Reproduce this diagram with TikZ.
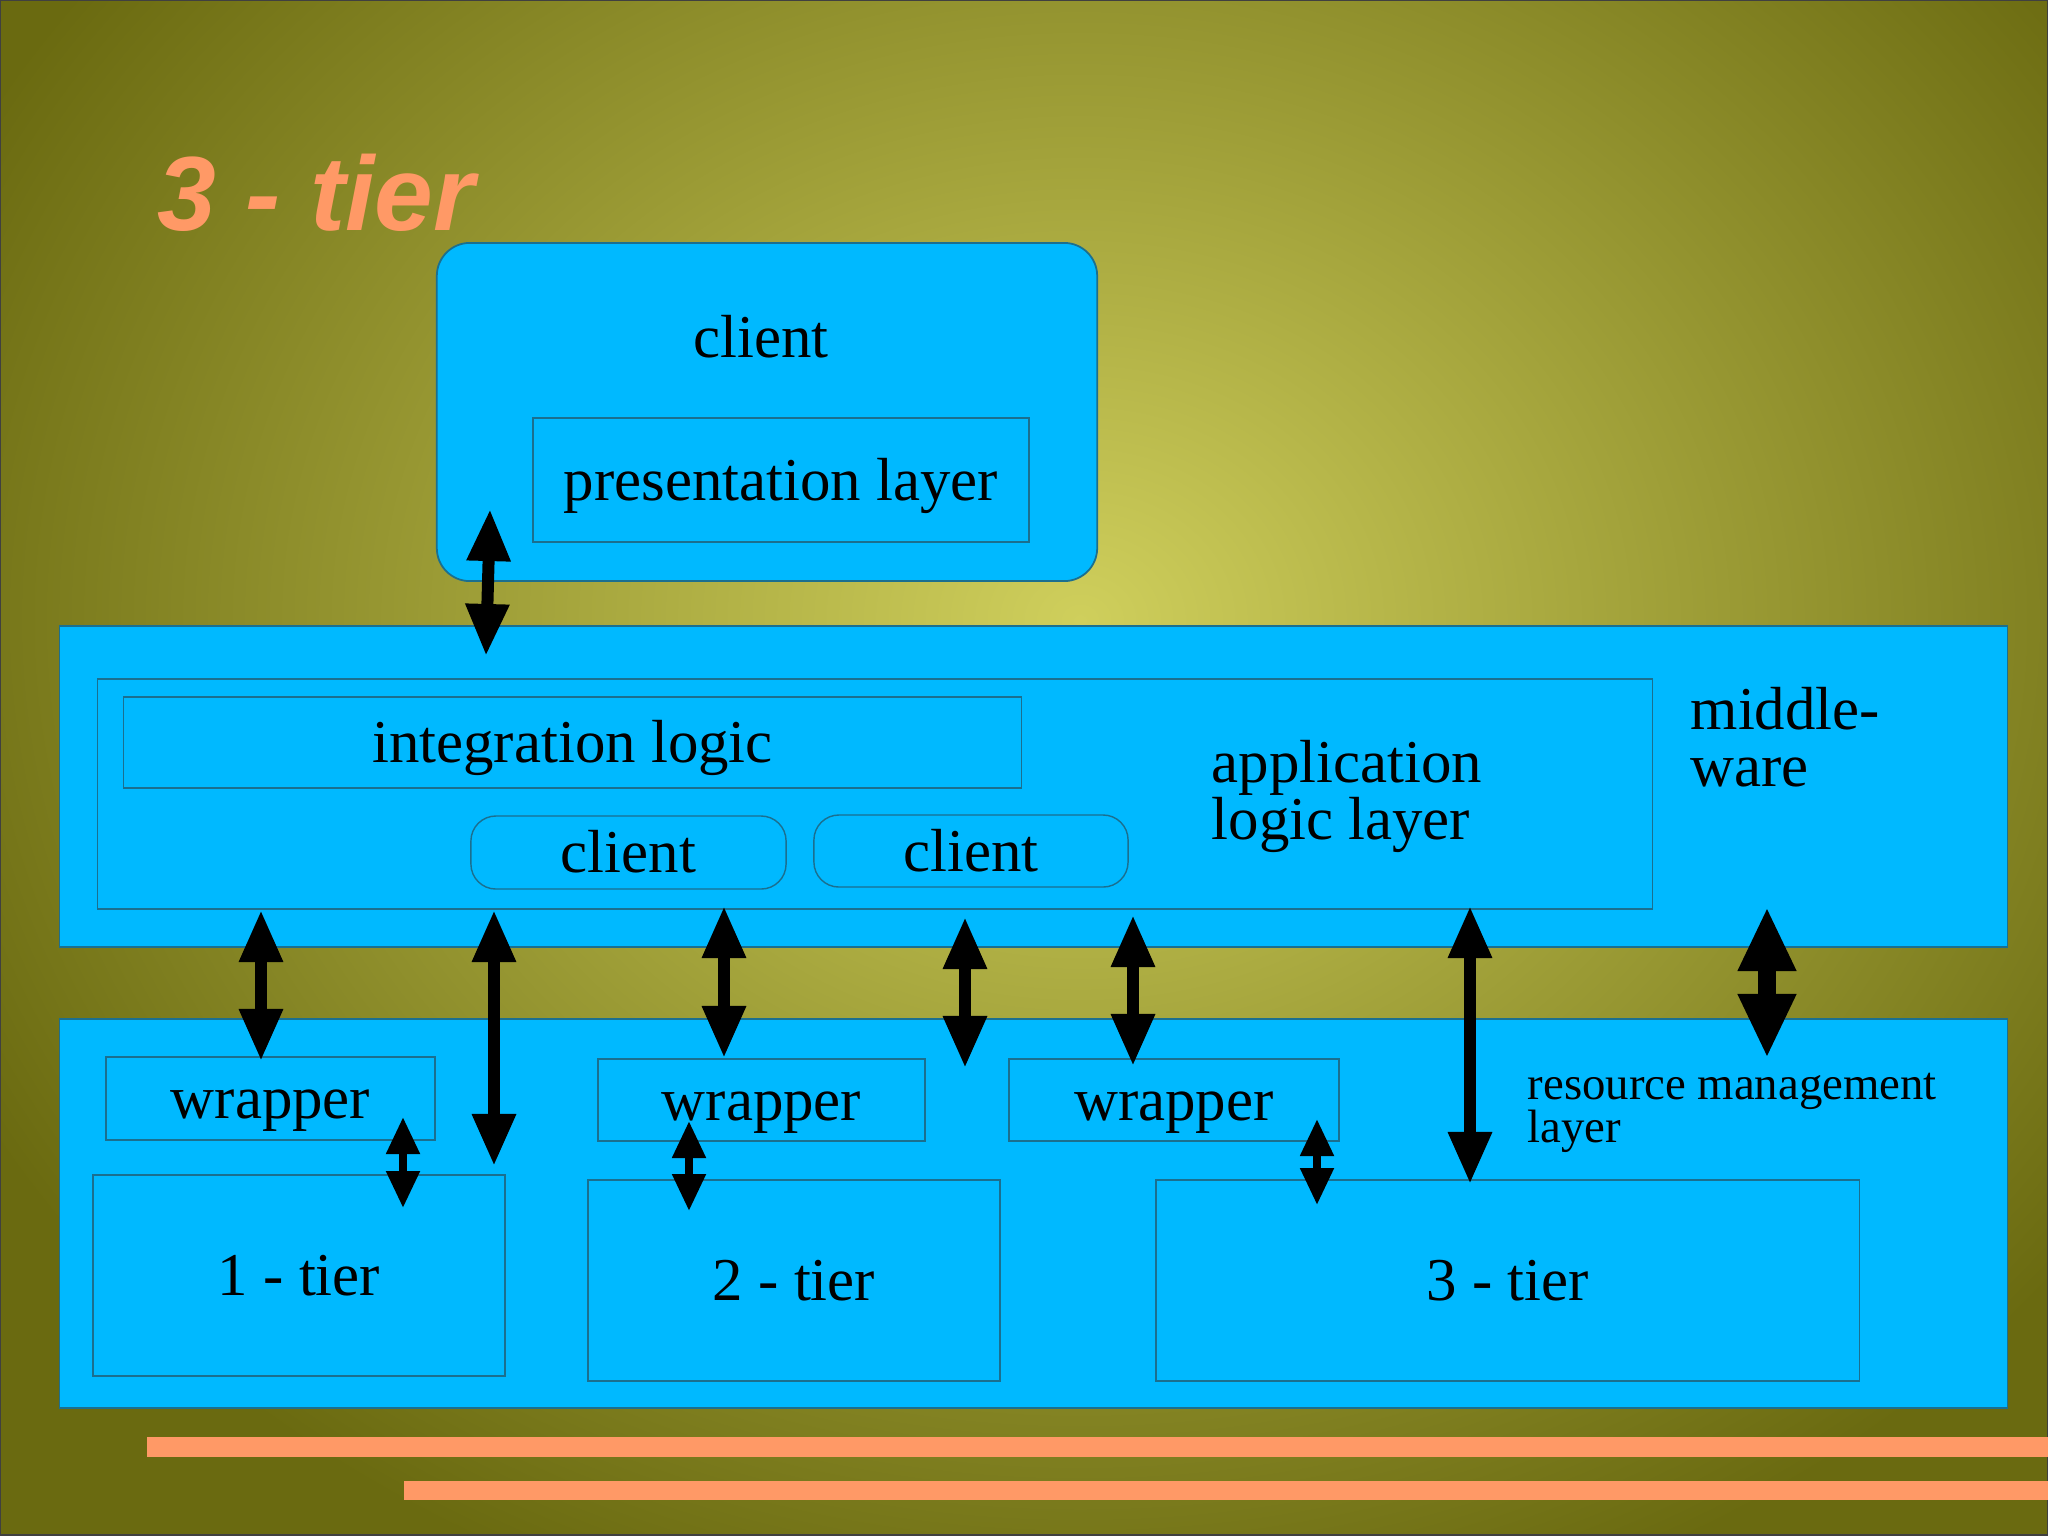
\documentclass[tikz,border=0pt]{standalone}
\usepackage{fontspec}
\setmainfont{Liberation Serif}
\newfontfamily\headfont{Liberation Sans}
\usetikzlibrary{arrows.meta,positioning}
\definecolor{olivedark}{HTML}{6A6A10}
\definecolor{olivelight}{HTML}{CFCF5C}
\definecolor{skyblue}{HTML}{00B9FF}
\definecolor{boxline}{HTML}{1B6F8F}
\definecolor{salmon}{HTML}{FF9966}
\pgfdeclareradialshading{bgglow}{\pgfpoint{0bp}{0bp}}{color(0bp)=(olivelight); color(25bp)=(olivedark); color(50bp)=(olivedark)}
\newcommand\lblfont{\fontsize{17.3}{16.2}\selectfont}
\newcommand\reslfont{\fontsize{13.3}{12.2}\selectfont}
\tikzset{
  layer/.style={draw=boxline, fill=skyblue, line width=0.5pt, inner sep=0pt},
  part/.style={draw=boxline, line width=0.4pt, inner sep=0pt, font=\lblfont,
    text height=0.48cm, text depth=0.08cm},
  roundpart/.style={part, rounded corners=0.25cm},
  lbl/.style={inner sep=0pt, font=\lblfont, align=left},
  darrow/.style={{Triangle[length=0.52cm,width=0.41cm]}-{Triangle[length=0.52cm,width=0.41cm]}, line width=0.12cm},
  widearrow/.style={{Triangle[length=0.64cm,width=0.54cm]}-{Triangle[length=0.64cm,width=0.54cm]}, line width=0.18cm},
  smallarrow/.style={{Triangle[length=0.37cm,width=0.32cm]}-{Triangle[length=0.37cm,width=0.32cm]}, line width=0.08cm},
  bar/.style={fill=salmon}
}

\begin{document}
\begin{tikzpicture}[x=0.01cm, y=-0.01cm]
  \useasboundingbox (0,0) rectangle (2048,1535);
  % background
  \fill[olivedark] (0,0) rectangle (2048,1535);
  \begin{scope}
    \clip (0,0) rectangle (2048,1535);
    \shade[shading=bgglow] (1080,620) ellipse (1250 and 1050);
  \end{scope}
  \draw[black!75, line width=0.8pt] (0,0) rectangle (2048,1535);

  \node[anchor=base west, inner sep=0pt, text=salmon, font=\headfont\bfseries\itshape\fontsize{30}{32}\selectfont] (title) at (157,230) {3 - tier};

  % client
  \node[layer, rounded corners=0.33cm, minimum width=6.60cm, minimum height=3.38cm] (clientbox) at (767,412) {};
  \node[lbl, anchor=base] (clienttxt) at (761,357) {client};
  \node[part, minimum width=4.96cm, minimum height=1.24cm] (pres) at (781,480) {presentation layer};

  % middleware
  \node[layer, minimum width=19.47cm, minimum height=3.21cm] (mw) at (1033.5,786.5) {};
  \node[part, minimum width=15.54cm, minimum height=2.30cm] (app) at (875,794) {};
  \node[part, minimum width=8.97cm, minimum height=0.91cm] (integ) at (572.5,742.5) {integration logic};
  \node[roundpart, minimum width=3.15cm, minimum height=0.73cm] (cl1) at (628.5,852.5) {client};
  \node[roundpart, minimum width=3.14cm, minimum height=0.72cm] (cl2) at (971,851) {client};
  \node[lbl, anchor=base west] (apptxt) at (1211,839) {application\\logic layer};
  \node[lbl, anchor=base west] (mwtxt) at (1690,786) {middle-\\ware};

  % resource management
  \node[layer, minimum width=19.47cm, minimum height=3.89cm] (rm) at (1033.5,1213.5) {};
  \node[part, minimum width=3.29cm, minimum height=0.83cm] (wr1) at (270.5,1098.5) {wrapper};
  \node[part, minimum width=3.27cm, minimum height=0.82cm] (wr2) at (761.5,1100) {wrapper};
  \node[part, minimum width=3.30cm, minimum height=0.82cm] (wr3) at (1174,1100) {wrapper};
  \node[part, minimum width=4.12cm, minimum height=2.01cm] (t1) at (299,1275.5) {1 - tier};
  \node[part, minimum width=4.12cm, minimum height=2.01cm] (t2) at (794,1280.5) {2 - tier};
  \node[part, minimum width=7.03cm, minimum height=2.01cm] (t3) at (1507.5,1280.5) {3 - tier};
  \node[lbl, font=\reslfont, anchor=base west] (rmtxt) at (1527,1142) {resource management\\layer};

  % bars
  \fill[bar] (147,1437) rectangle (2048,1457);
  \fill[bar] (404,1481) rectangle (2048,1500);

  % arrow ends
  \coordinate (pt) at (490,509);  \coordinate (pb) at (486,656);
  \coordinate (a1t) at (261,910);  \coordinate (a1b) at (261,1061);
  \coordinate (a2t) at (494,910);  \coordinate (a2b) at (494,1166);
  \coordinate (a3t) at (724,906);  \coordinate (a3b) at (724,1058);
  \coordinate (a4t) at (965,917);  \coordinate (a4b) at (965,1068);
  \coordinate (a5t) at (1133,915); \coordinate (a5b) at (1133,1066);
  \coordinate (a6t) at (1470,906); \coordinate (a6b) at (1470,1184);
  \coordinate (a7t) at (1767,907); \coordinate (a7b) at (1767,1058);
  \coordinate (w1t) at (403,1117); \coordinate (w1b) at (403,1208);
  \coordinate (w2t) at (689,1121); \coordinate (w2b) at (689,1211);
  \coordinate (w3t) at (1317,1119); \coordinate (w3b) at (1317,1205);

  \draw[darrow] (pt) -- (pb);
  \draw[darrow] (a1t) -- (a1b);
  \draw[darrow] (a2t) -- (a2b);
  \draw[darrow] (a3t) -- (a3b);
  \draw[darrow] (a4t) -- (a4b);
  \draw[darrow] (a5t) -- (a5b);
  \draw[darrow] (a6t) -- (a6b);
  \draw[widearrow] (a7t) -- (a7b);
  \draw[smallarrow] (w1t) -- (w1b);
  \draw[smallarrow] (w2t) -- (w2b);
  \draw[smallarrow] (w3t) -- (w3b);
\end{tikzpicture}
\end{document}
